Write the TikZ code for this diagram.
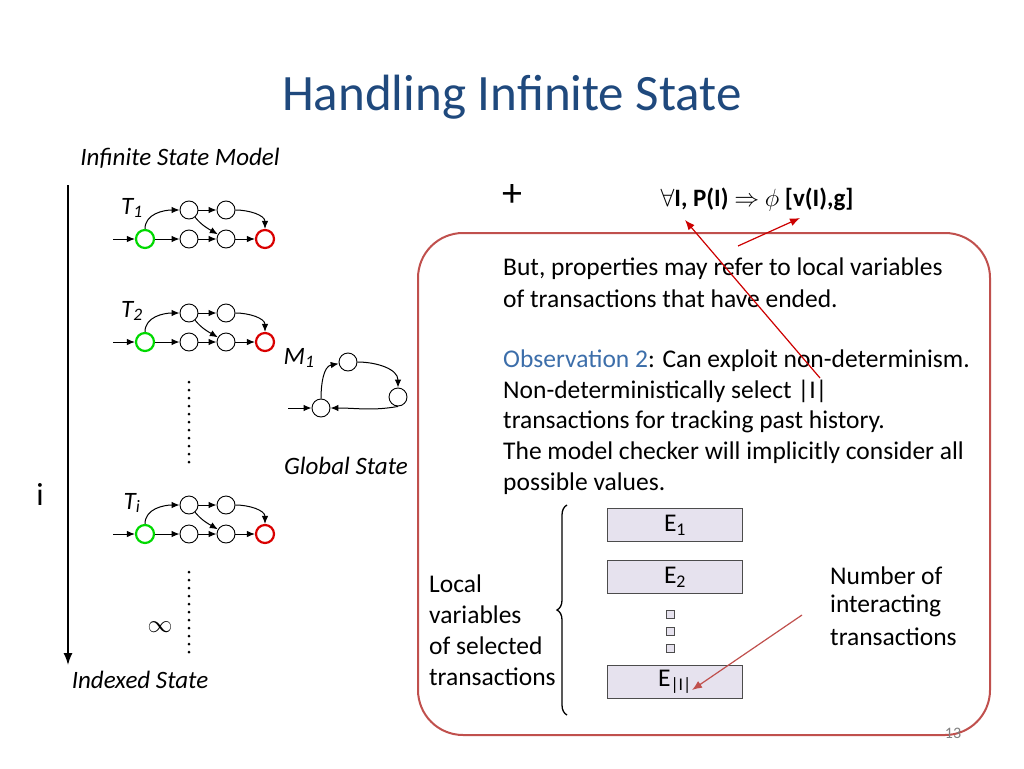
\documentclass[tikz,border=0pt]{standalone}
\usepackage{fontspec}
\setmainfont{Carlito}
\usepackage{amssymb}
\usetikzlibrary{arrows.meta,decorations.pathreplacing}
\definecolor{ttl}{RGB}{31,73,125}
\definecolor{brd}{RGB}{192,80,77}
\definecolor{obs}{RGB}{60,110,170}
\definecolor{efill}{RGB}{230,226,238}
\begin{document}
\begin{tikzpicture}[x=1pt,y=-1pt,
  st/.style={circle,draw,minimum size=18pt,inner sep=0pt,line width=0.9pt},
  gs/.style={st,draw=green!85!black,line width=2.2pt},
  rs/.style={st,draw=red!85!black,line width=2.2pt},
  ar/.style={-{Latex[length=8pt,width=6.5pt]},line width=1pt},
  txt/.style={anchor=west,font=\fontsize{25.5}{30}\selectfont,inner sep=0pt},
  ebox/.style={draw=black!70,fill=efill,minimum width=135pt,minimum height=33pt,inner sep=0pt,font=\fontsize{25.5}{30}\selectfont}]
\useasboundingbox (0,0) rectangle (1024,768);
\node[text=ttl,font=\fontsize{51}{56}\selectfont] (title) at (512,97) {Handling Infinite State};
\node[font=\fontsize{25}{30}\selectfont\itshape] (ism) at (180,158) {Infinite State Model};
\coordinate (atop) at (68,185); \coordinate (abot) at (68,665);
\draw[-{Latex[length=12pt,width=9pt]},line width=1.5pt] (atop) -- (abot);
\node[font=\fontsize{32}{36}\selectfont] (ilab) at (40,494) {i};
\node[font=\fontsize{25}{30}\selectfont\itshape] (idx) at (140,680) {Indexed State};
\foreach \n/\dy/\lab in {a/0/{1},b/103/{2},c/295/{i}}{
  \begin{scope}[yshift=-\dy pt]
  \node[font=\fontsize{25}{30}\selectfont\itshape] (L\n) at (132,208) {T\textsubscript{\lab}};
  \coordinate (e\n) at (113,239);
  \node[gs] (g\n) at (145,239) {};
  \node[st] (b1\n) at (189,239) {};
  \node[st] (b2\n) at (226,239) {};
  \node[rs] (r\n) at (265,239) {};
  \node[st] (t1\n) at (189,210) {};
  \node[st] (t2\n) at (226,210) {};
  \draw[ar] (e\n) -- (g\n);
  \draw[ar] (g\n) -- (b1\n);
  \draw[ar] (b1\n) -- (b2\n);
  \draw[ar] (b2\n) -- (r\n);
  \draw[ar] (t1\n) -- (t2\n);
  \draw[ar] (g\n) to[out=90,in=180] (t1\n);
  \draw[ar] (t1\n) to[out=-50,in=150] (b2\n);
  \draw[ar] (t2\n) to[out=0,in=90] (r\n);
  \end{scope}}
\draw[line width=3pt,dash pattern=on 0pt off 8pt,line cap=round] (189,382) -- (189,465);
\draw[line width=3pt,dash pattern=on 0pt off 8pt,line cap=round] (189,572) -- (189,652);
\node[font=\fontsize{34}{34}\selectfont] (inf) at (160,627) {$\infty$};
% M1
\node[font=\fontsize{25}{30}\selectfont\itshape] (m1l) at (299,358) {M\textsubscript{1}};
\node[st] (m1) at (348,362) {};
\node[st] (m2) at (398,397) {};
\node[st] (m3) at (321,408) {};
\coordinate (me) at (288,408);
\draw[ar] (me) -- (m3);
\draw[ar] (m3) to[out=90,in=190] (m1);
\draw[ar] (m1) to[out=0,in=90] (m2);
\draw[ar] (m2.south) to[out=-170,in=0] (m3);
\node[font=\fontsize{25}{30}\selectfont\itshape] (gsl) at (346,466) {Global State};
% big box
\draw[brd,line width=2pt,rounded corners=45pt] (418,233) rectangle (990,735);
\node[font=\fontsize{40}{40}\selectfont] (plus) at (512,196) {+};
\node[font=\fontsize{25}{30}\selectfont\bfseries] (form) at (757,200) {$\forall$I, P(I) $\Rightarrow$ $\phi$ [v(I),g]};
\node[txt] (p1) at (503,269) {But, properties may refer to local variables};
\node[txt] (p2) at (503,299) {of transactions that have ended.};
\node[txt] (o1) at (503,361) {\textcolor{obs}{Observation 2}: Can exploit non-determinism.};
\node[txt] (o2) at (503,391) {Non-deterministically select |I|};
\node[txt] (o3) at (503,422) {transactions for tracking past history.};
\node[txt] (o4) at (503,453) {The model checker will implicitly consider all};
\node[txt] (o5) at (503,484) {possible values.};
\coordinate (r1s) at (820,378); \coordinate (r1e) at (685,220);
\coordinate (r2s) at (738,246); \coordinate (r2e) at (800,218);
\draw[red!80!black,line width=1.2pt,-{Latex[length=10pt,width=8pt]}] (r1s) -- (r1e);
\draw[red!80!black,line width=1.2pt,-{Latex[length=10pt,width=8pt]}] (r2s) -- (r2e);
% brace
\draw[line width=1.3pt,decorate,decoration={brace,amplitude=10pt}] (567,715) -- (567,505);
\node[txt] (lv1) at (429,584) {Local};
\node[txt] (lv2) at (429,615) {variables};
\node[txt] (lv3) at (429,646) {of selected};
\node[txt] (lv4) at (429,677) {transactions};
\node[ebox] (E1) at (675,525) {E\textsubscript{1}};
\node[ebox] (E2) at (675,577) {E\textsubscript{2}};
\node[ebox] (E3) at (675,682) {E\textsubscript{|I|}};
\foreach \y/\k in {614/a,631/b,648/c}{\node[draw=black!70,fill=efill,minimum size=8pt,inner sep=0pt] (sq\k) at (670,\y) {};}
\node[txt] (n1) at (830,576) {Number of};
\node[txt] (n2) at (830,606) {interacting};
\node[txt] (n3) at (830,637) {transactions};
\coordinate (r3s) at (802,615); \coordinate (r3e) at (692,690);
\draw[brd,line width=1.2pt,-{Latex[length=10pt,width=8pt]}] (r3s) -- (r3e);
\node[text=gray,font=\fontsize{16}{18}\selectfont] (pg) at (953,733) {13};
\end{tikzpicture}
\end{document}
